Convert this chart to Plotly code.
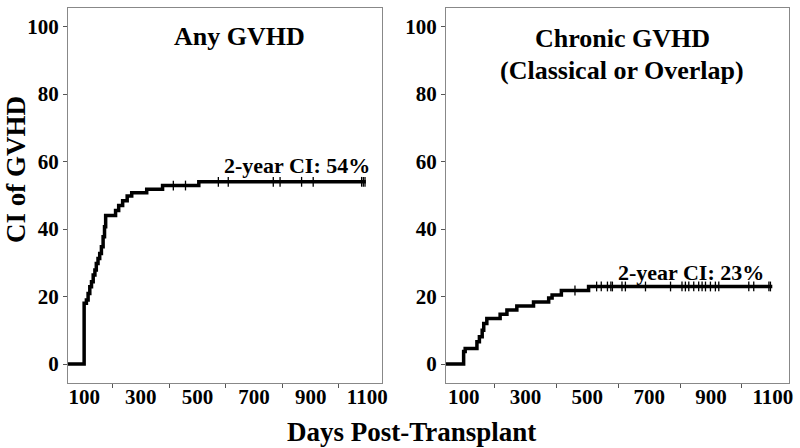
import plotly.graph_objects as go

# ===============================
#  データ
# ===============================
# Any GVHD: 累積発生率のステップ
any_days = [0, 100, 108, 114, 120, 126, 132, 138, 143, 149, 155, 161, 167, 172,
            176, 211, 222, 236, 252, 268, 321, 377, 505, 1095]
any_ci = [0, 18.0, 19.0, 20.9, 22.9, 24.4, 26.4, 27.9, 29.8, 31.3, 32.8, 34.8, 37.7, 40.7,
          44.0, 45.5, 47.0, 48.4, 49.8, 50.8, 51.8, 52.9, 54.0, 54.0]
any_censor = [415, 458, 574, 609, 768, 792, 868, 909, 1080, 1086, 1092]

# Chronic GVHD (Classical or Overlap)
chr_days = [0, 100, 105, 143, 151, 160, 165, 175, 218, 240, 272, 326, 375, 386, 416, 504, 1098]
chr_ci = [0, 3.7, 4.6, 6.6, 8.1, 10.0, 12.0, 13.5, 14.8, 16.0, 17.2, 18.4, 19.6, 20.5, 21.8,
          23.0, 23.0]
chr_censor = [460, 530, 545, 565, 576, 581, 612, 623, 688, 769, 806, 817, 828, 844, 860,
              871, 882, 898, 914, 925, 1022, 1038, 1087, 1092]

x_ticks = [100, 300, 500, 700, 900, 1100]
x_minor = [200, 400, 600, 800, 1000]
y_ticks = [0, 20, 40, 60, 80, 100]

FONT = "Liberation Serif, Times New Roman, serif"
W, H = 800, 448


def level_at(days, ci, d):
    # ステップ関数の値を取得（打ち切り印の高さ用）
    val = ci[0]
    for t, v in zip(days, ci):
        if t <= d:
            val = v
    return val


def px_x(p):
    return p / W


def px_y(p):
    return 1 - p / H


fig = go.Figure()

for days, ci, cens, xa, ya in [
    (any_days, any_ci, any_censor, "x", "y"),
    (chr_days, chr_ci, chr_censor, "x2", "y2"),
]:
    fig.add_trace(go.Scatter(
        x=days, y=ci, mode="lines", line=dict(color="black", width=3.5, shape="hv"),
        xaxis=xa, yaxis=ya, showlegend=False, hoverinfo="skip",
    ))
    fig.add_trace(go.Scatter(
        x=cens, y=[level_at(days, ci, d) for d in cens], mode="markers",
        marker=dict(symbol="line-ns", size=7, line=dict(color="black", width=1.3)),
        xaxis=xa, yaxis=ya, showlegend=False, hoverinfo="skip",
    ))

tick_font = dict(family=FONT, size=21, color="black", weight="bold")

xaxis_common = dict(
    range=[43, 1152], tickmode="array", tickvals=x_ticks, ticks="",
    minor=dict(tickmode="array", tickvals=x_minor, ticks="outside", ticklen=4,
               tickcolor="#555", tickwidth=1),
    showline=True, mirror=True, linecolor="#888", linewidth=1,
    showgrid=False, zeroline=False, tickfont=tick_font, automargin=False,
    ticklabelstandoff=-5,
)
yaxis_common = dict(
    range=[-5.6, 105.5], tickmode="array", tickvals=y_ticks, ticks="outside",
    ticklen=4, tickcolor="#555", showline=True, mirror=True, linecolor="#888",
    linewidth=1, showgrid=False, zeroline=False, tickfont=tick_font, automargin=False,
)

fig.update_layout(
    width=W, height=H,
    margin=dict(l=0, r=0, t=0, b=0),
    paper_bgcolor="white", plot_bgcolor="white",
    xaxis=dict(domain=[px_x(68), px_x(382)], anchor="y", **xaxis_common),
    yaxis=dict(domain=[px_y(383), px_y(8)], anchor="x", **yaxis_common),
    xaxis2=dict(domain=[px_x(446), px_x(789)], anchor="y2", **xaxis_common),
    yaxis2=dict(domain=[px_y(383), px_y(8)], anchor="x2", **yaxis_common),
)

title_font = dict(family=FONT, size=26, color="black", weight="bold")
label_font = dict(family=FONT, size=22, color="black", weight="bold")

annots = [
    ("Any GVHD", 239, 37, title_font, 0),
    ("Chronic GVHD", 622, 39, title_font, 0),
    ("(Classical or Overlap)", 622, 71, title_font, 0),
    ("2-year CI: 54%", 297, 165, label_font, 0),
    ("2-year CI: 23%", 691, 272, label_font, 0),
    ("Days Post-Transplant", 411, 432, dict(title_font, size=27), 0),
    ("CI of GVHD", 16, 170, dict(title_font, size=27), -90),
]
for text, ax_, ay_, f, ang in annots:
    fig.add_annotation(
        text=text, x=px_x(ax_), y=px_y(ay_), xref="paper", yref="paper",
        xanchor="center", yanchor="middle", showarrow=False, font=f, textangle=ang,
    )

# ページ余白を消す
fig.write_html("out.html", config={"displayModeBar": False},
               post_script="document.body.style.margin='0';")
